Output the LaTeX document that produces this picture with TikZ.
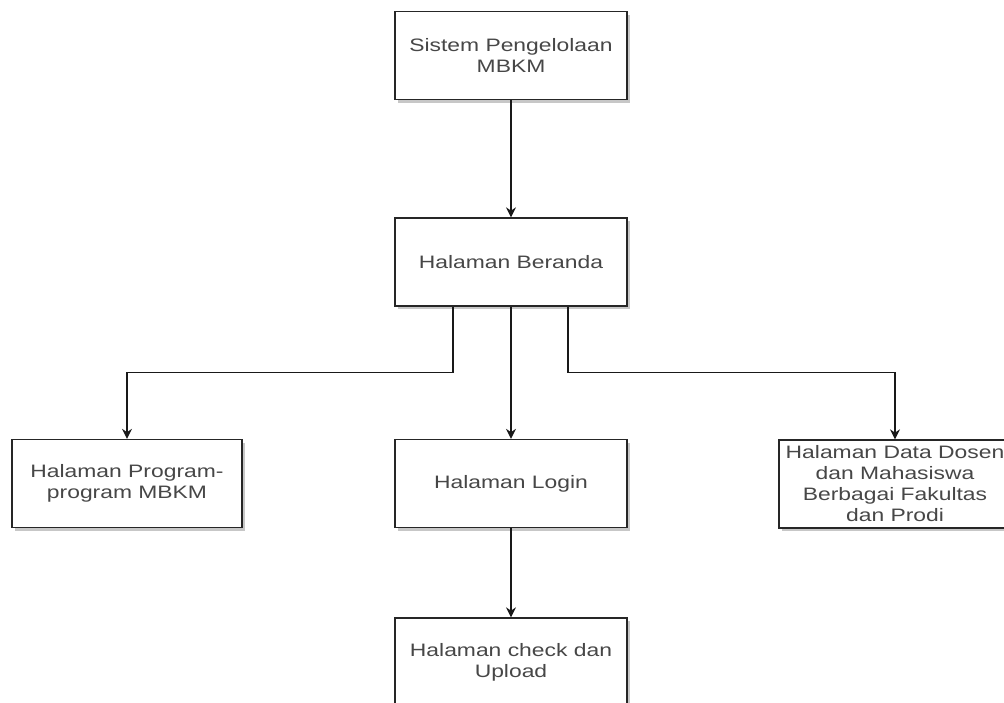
\documentclass[tikz,border=0pt]{standalone}
\usepackage{fontspec}
\setmainfont{Liberation Sans}[FakeStretch=1.27]
\usetikzlibrary{arrows.meta,shadows}
\tikzset{
  halaman/.style={draw=black!85, line width=1.3pt, fill=white, minimum width=232pt, minimum height=88pt,
    align=center, text=black!72, font=\fontsize{18}{21}\selectfont,
    drop shadow={shadow xshift=3pt, shadow yshift=-3pt, fill=black!22, opacity=1}},
  panah/.style={draw=black!90, line width=1.3pt, -{Stealth[length=10pt,width=10pt]}}
}
\begin{document}
\begin{tikzpicture}[x=1pt,y=-1pt]
\useasboundingbox (0,0) rectangle (1004,702);
\clip (0,0) rectangle (1004,702);
\node[halaman] (sistem) at (511,55.5) {Sistem Pengelolaan\\MBKM};
\node[halaman] (beranda) at (511,262) {Halaman Beranda};
\node[halaman, minimum width=230pt] (program) at (127,483.5) {Halaman Program-\\program MBKM};
\node[halaman] (login) at (511,483.5) {Halaman Login};
\node[halaman] (datadosen) at (895,484) {Halaman Data Dosen\\dan Mahasiswa\\Berbagai Fakultas\\dan Prodi};
\node[halaman] (upload) at (511,662) {Halaman check dan\\Upload};
\draw[panah] (sistem) -- (beranda);
\draw[panah] ([xshift=-58pt]beranda.south) -- ++(0,66) -| (program.north);
\draw[panah] (beranda) -- (login);
\draw[panah] ([xshift=57pt]beranda.south) -- ++(0,66) -| (datadosen.north);
\draw[panah] (login) -- (upload);
\end{tikzpicture}
\end{document}
